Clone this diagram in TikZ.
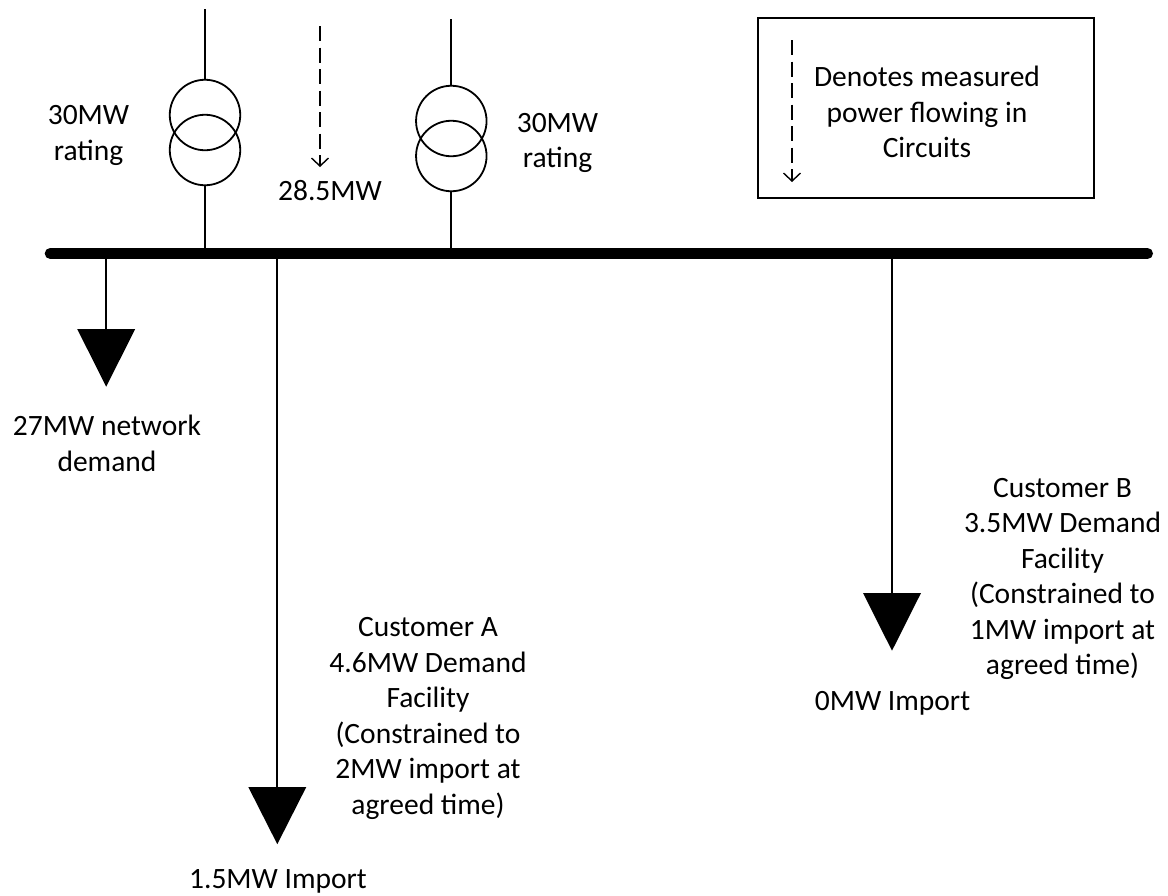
\documentclass[tikz,border=0pt]{standalone}
\usepackage{fontspec}
\setmainfont{Carlito}
\usetikzlibrary{arrows.meta}
\newcommand{\lt}{\rule{0pt}{26pt}}
\newcommand{\lb}{\rule[-7pt]{0pt}{7pt}}
\tikzset{
 wire/.style={line width=1.8pt,black},
 winding/.style={circle,draw=black,line width=1.8pt,minimum size=70.5pt,inner sep=0pt},
 flow/.style={line width=1.5pt,dash pattern=on 15pt off 6.5pt,-{Straight Barb[length=8pt,width=17pt,line width=1.4pt]}},
 label/.style={align=center,font=\fontsize{29.5}{35.5}\selectfont,text=black,inner sep=0pt},
 load/.style={fill=black,draw=none}
}
\begin{document}
\begin{tikzpicture}[x=1pt,y=-1pt]
\useasboundingbox (0,0) rectangle (1168,895);
\draw[line width=11pt,line cap=round] (50.2,253.5) coordinate (busL) -- (1147.5,253.5) coordinate (busR);
% left transformer
\node[winding] (t1a) at (205,115) {};
\node[winding] (t1b) at (205,150) {};
\coordinate (t1top) at (205,9);
\coordinate (t1bus) at (205,250);
\draw[wire] (t1top) -- (t1a.north);
\draw[wire] (t1b.south) -- (t1bus);
% right transformer
\node[winding] (t2a) at (451.3,121) {};
\node[winding] (t2b) at (451.3,156) {};
\coordinate (t2top) at (451.3,19);
\coordinate (t2bus) at (451.3,250);
\draw[wire] (t2top) -- (t2a.north);
\draw[wire] (t2b.south) -- (t2bus);
% measured flow
\coordinate (f1a) at (320,26);
\coordinate (f1b) at (320,167);
\draw[flow] (f1a) -- (f1b);
\node[label] (lflow) at (330,190.5) {\lt 28.5MW\lb};
\node[label] (l1) at (88.5,133) {\lt 30MW\\rating\lb};
\node[label] (l2) at (557.5,140.7) {\lt 30MW\\rating\lb};
% legend
\node[draw=black,line width=1.8pt,minimum width=336pt,minimum height=180pt,inner sep=0pt] (legend) at (925.8,107.8) {};
\coordinate (f2a) at (792,40);
\coordinate (f2b) at (792,182);
\draw[flow] (f2a) -- (f2b);
\node[label] (ltext) at (927,112.5) {\lt Denotes measured\\power flowing in\\Circuits\lb};
% network demand
\coordinate (d1top) at (106.2,257);
\coordinate (d1) at (106.2,329.5);
\draw[wire] (d1top) -- (d1);
\fill[load] (77.2,329) -- (135.2,329) -- (106.2,386.7) -- cycle;
\node[label] (ld1) at (107,444) {\lt 27MW network\\demand\lb};
% customer A
\coordinate (d2top) at (277.3,257);
\coordinate (d2) at (277.3,787.5);
\draw[wire] (d2top) -- (d2);
\fill[load] (248.3,787) -- (306.3,787) -- (277.3,844.2) -- cycle;
\node[label] (ld2) at (428,715.8) {\lt Customer A\\4.6MW Demand\\Facility\\(Constrained to\\2MW import at\\agreed time)\lb};
\node[label] (li2) at (278,878.5) {\lt 1.5MW Import\lb};
% customer B
\coordinate (d3top) at (892,257);
\coordinate (d3) at (892,593.5);
\draw[wire] (d3top) -- (d3);
\fill[load] (863,593) -- (921,593) -- (892,650.7) -- cycle;
\node[label] (ld3) at (1062.5,576.5) {\lt Customer B\\3.5MW Demand\\Facility\\(Constrained to\\1MW import at\\agreed time)\lb};
\node[label] (li3) at (892.5,700.5) {\lt 0MW Import\lb};
\end{tikzpicture}
\end{document}
